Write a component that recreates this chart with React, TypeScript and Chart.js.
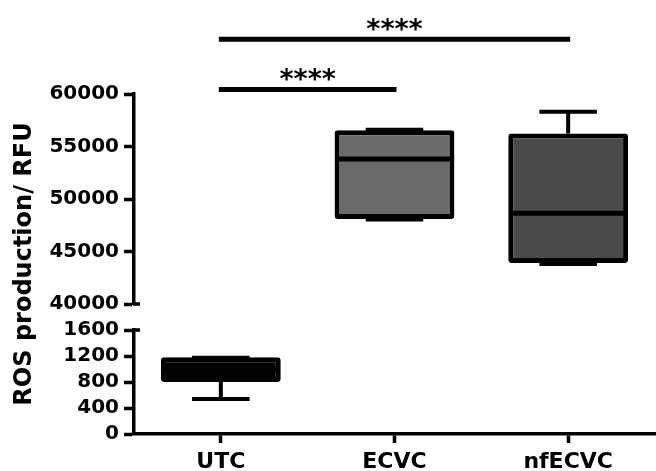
import { useEffect, useRef } from 'react';
import { Chart, registerables } from 'chart.js';

Chart.register(...registerables);

// ---- data ----
const categories = ['UTC', 'ECVC', 'nfECVC'];
const axisOf = ['low', 'high', 'high'];
const whiskerMin = [540, 48050, 43800];
const quartile1 = [800, 48100, 43900];
const medianVals = [1000, 53800, 48650];
const quartile3 = [1180, 56550, 56250];
const whiskerMax = [1175, 56600, 58300];
const boxColors = ['#000000', '#6a6a6a', '#4a4a4a'];

const lowRange = [0, 1600];
const lowStep = 400;
const highRange = [40000, 60000];
const highStep = 5000;

const sigPairs = [[0, 1], [0, 2]];
const sigLevels = [60430, 65220];
const sigLabels = ['****', '****'];

const yTitle = 'ROS production/ RFU';

const FONT = 'DejaVu Sans';
const AXIS_W = 95.2;

const extrasPlugin = {
  id: 'boxExtras',
  afterDatasetsDraw(chart: any) {
    const ctx = chart.ctx;
    const xs = chart.scales.x;
    const yLow = chart.scales.yLow;
    const yHigh = chart.scales.yHigh;
    ctx.save();
    ctx.strokeStyle = '#000';
    ctx.lineCap = 'butt';
    categories.forEach((_, i) => {
      const ys = axisOf[i] === 'low' ? yLow : yHigh;
      const meta = chart.getDatasetMeta(axisOf[i] === 'low' ? 0 : 1);
      const bar: any = meta.data[i];
      const cx = xs.getPixelForValue(i);
      const half = bar ? bar.width / 2 : 60;
      const capHalf = half * 0.48;
      const yMin = ys.getPixelForValue(whiskerMin[i]);
      const yQ1 = ys.getPixelForValue(quartile1[i]);
      const yMed = ys.getPixelForValue(medianVals[i]);
      const yQ3 = ys.getPixelForValue(quartile3[i]);
      const yMax = ys.getPixelForValue(whiskerMax[i]);
      // whisker stems
      ctx.lineWidth = 4;
      ctx.beginPath();
      ctx.moveTo(cx, yQ3);
      ctx.lineTo(cx, yMax);
      ctx.moveTo(cx, yQ1);
      ctx.lineTo(cx, yMin);
      ctx.stroke();
      // caps
      ctx.lineWidth = 4;
      ctx.beginPath();
      ctx.moveTo(cx - capHalf, yMax);
      ctx.lineTo(cx + capHalf, yMax);
      ctx.moveTo(cx - capHalf, yMin);
      ctx.lineTo(cx + capHalf, yMin);
      ctx.stroke();
      // median
      ctx.lineWidth = 5;
      ctx.beginPath();
      ctx.moveTo(cx - half + 2, yMed);
      ctx.lineTo(cx + half - 2, yMed);
      ctx.stroke();
    });

    // axis-break end marks
    const left = chart.chartArea.left;
    ctx.lineWidth = 3.5;
    ctx.beginPath();
    const yb1 = yHigh.getPixelForValue(highRange[0]);
    const yb2 = yLow.getPixelForValue(lowRange[1]);
    ctx.moveTo(left - 1, yb1);
    ctx.lineTo(left + 6, yb1);
    ctx.moveTo(left - 1, yb2);
    ctx.lineTo(left + 6, yb2);
    ctx.stroke();

    // significance bars
    sigPairs.forEach((pair, k) => {
      const x1 = xs.getPixelForValue(pair[0]) - 2;
      const x2 = xs.getPixelForValue(pair[1]) + 2;
      const y = yHigh.getPixelForValue(sigLevels[k]);
      ctx.lineWidth = 5;
      ctx.beginPath();
      ctx.moveTo(x1, y);
      ctx.lineTo(x2, y);
      ctx.stroke();
      ctx.fillStyle = '#000';
      ctx.font = `bold 27px "${FONT}"`;
      ctx.textAlign = 'center';
      ctx.textBaseline = 'alphabetic';
      ctx.fillText(sigLabels[k], (x1 + x2) / 2, y - 1);
    });
    ctx.restore();
  },
};

export default function App() {
  const ref = useRef<HTMLCanvasElement>(null);

  useEffect(() => {
    const lowData = categories.map((_, i) => (axisOf[i] === 'low' ? [quartile1[i], quartile3[i]] : null));
    const highData = categories.map((_, i) => (axisOf[i] === 'high' ? [quartile1[i], quartile3[i]] : null));

    const tickFont = { family: FONT, size: 20, weight: 'bold' as const };
    const yCommon = (extra: any) => ({
      type: 'linear',
      position: 'left',
      axis: 'y',
      stack: 'ystack',
      afterFit: (s: any) => {
        s.width = AXIS_W;
      },
      ...extra,
    });

    const chart = new Chart(ref.current as HTMLCanvasElement, {
      type: 'bar',
      data: {
        labels: categories,
        datasets: [
          {
            data: lowData as any,
            yAxisID: 'yLow',
            backgroundColor: boxColors,
            borderColor: '#000',
            borderWidth: 5,
            borderSkipped: false,
            borderRadius: 3,
            grouped: false,
            barPercentage: 0.69,
            categoryPercentage: 1,
          },
          {
            data: highData as any,
            yAxisID: 'yHigh',
            backgroundColor: boxColors,
            borderColor: '#000',
            borderWidth: 5,
            borderSkipped: false,
            borderRadius: 3,
            grouped: false,
            barPercentage: 0.69,
            categoryPercentage: 1,
          },
        ],
      },
      options: {
        responsive: false,
        animation: false,
        layout: { padding: { top: 94, right: 1, bottom: 0, left: 0 } },
        plugins: {
          legend: { display: false },
          tooltip: { enabled: false },
          title: {
            display: true,
            text: yTitle,
            position: 'left',
            fullSize: false,
            color: '#000',
            font: { family: FONT, size: 24, weight: 'bold' },
            padding: { top: 10, bottom: 0 },
          },
        },
        scales: {
          x: {
            type: 'category',
            offset: true,
            afterFit: (s: any) => {
              s.height = 37;
            },
            grid: {
              display: true,
              drawOnChartArea: false,
              drawTicks: true,
              offset: false,
              tickLength: 9,
              tickWidth: 3.5,
              tickColor: '#000',
            },
            border: { display: true, color: '#000', width: 3.5 },
            ticks: { color: '#000', padding: 6, font: { family: FONT, size: 22, weight: 'bold' } },
          },
          yLow: yCommon({
            min: lowRange[0],
            max: lowRange[1],
            stackWeight: 104,
            grid: { display: true, drawOnChartArea: false, tickLength: 10, tickWidth: 3.5, tickColor: '#000' },
            border: { display: true, color: '#000', width: 3.5 },
            ticks: {
              stepSize: lowStep,
              autoSkip: false,
              color: '#000',
              padding: 5,
              font: tickFont,
              callback: (v: any) => String(v),
            },
          }),
          yGap: yCommon({
            min: 0,
            max: 1,
            stackWeight: 26,
            grid: { display: false },
            border: { display: false },
            ticks: { display: false },
          }),
          yHigh: yCommon({
            min: highRange[0],
            max: highRange[1],
            stackWeight: 210,
            grid: { display: true, drawOnChartArea: false, tickLength: 10, tickWidth: 3.5, tickColor: '#000' },
            border: { display: true, color: '#000', width: 3.5 },
            ticks: {
              stepSize: highStep,
              autoSkip: false,
              color: '#000',
              padding: 5,
              font: tickFont,
              callback: (v: any) => String(v),
            },
          }),
        },
      } as any,
      plugins: [extrasPlugin],
    });
    return () => chart.destroy();
  }, []);

  return (
    <div style={{ position: 'fixed', left: 0, top: 0, width: 656, height: 471, background: '#fff' }}>
      <canvas ref={ref} width={656} height={471} style={{ display: 'block' }} />
    </div>
  );
}
